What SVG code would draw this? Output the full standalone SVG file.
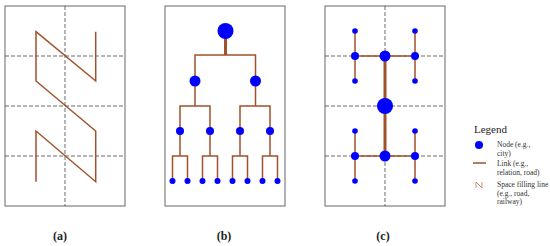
<svg xmlns="http://www.w3.org/2000/svg" width="550" height="246" viewBox="0 0 550 246">
<style>
.frame{fill:#fff;stroke:#666;stroke-width:1}
.grid{stroke:#444;stroke-width:0.8;stroke-dasharray:4,2;fill:none}
.link{stroke:#a0522d;stroke-width:1.5;fill:none}
.thick{stroke:#a0522d;stroke-width:3;fill:none}
.node{fill:#0000ff}
.lbl{font-family:"Liberation Serif",serif;font-size:12px;font-weight:bold;fill:#222;text-anchor:middle}
.leg{font-family:"Liberation Serif",serif;font-size:7.5px;fill:#333}
.legt{font-family:"Liberation Serif",serif;font-size:11px;fill:#222}
</style>
<rect width="550" height="246" fill="#fff"/>
<g id="panel-a">
<rect class="frame" x="5" y="6" width="120" height="200"/>
<path class="grid" d="M65,6V206M5,56H125M5,106H125M5,156H125"/>
<path class="link" d="M95.7,31.7V81L36,31.7V81L95.7,131V181.7L36,131V181.7"/>
<text class="lbl" x="60" y="240">(a)</text>
</g>
<g id="panel-b">
<rect class="frame" x="165" y="6" width="120" height="200"/>
<text class="lbl" x="224" y="240">(b)</text>
</g>
<g id="panel-c">
<rect class="frame" x="325" y="6" width="120" height="200"/>
<path class="grid" d="M385,6V206M325,56H445M325,106H445M325,156H445"/>
<text class="lbl" x="383" y="240">(c)</text>
</g>
<g id="connectors">
<path class="thick" d="M225.5,31V55"/>
<path class="link" d="M195,81V55H255.5V81M195,81V106M180,131V106H210V131M255.5,81V106M240,131V106H270V131"/>
<path class="link" d="M180,131V156M172.5,181V156H187.5V181M210,131V156M202.5,181V156H217.5V181M240,131V156M232.5,181V156H247.5V181M270,131V156M262.5,181V156H277.5V181"/>
<path class="thick" d="M385,56V156"/>
<path class="link" d="M355,56H415M355,31V81M415,31V81M355,156H415M355,131V181M415,131V181"/>
</g>
<g id="nodes-b">
<circle class="node" cx="225.5" cy="31" r="8"/>
<circle class="node" cx="195" cy="81" r="5.5"/>
<circle class="node" cx="255.5" cy="81" r="5.5"/>
<circle class="node" cx="180" cy="131" r="4"/>
<circle class="node" cx="210" cy="131" r="4"/>
<circle class="node" cx="240" cy="131" r="4"/>
<circle class="node" cx="270" cy="131" r="4"/>
<circle class="node" cx="172.5" cy="181" r="3"/>
<circle class="node" cx="187.5" cy="181" r="3"/>
<circle class="node" cx="202.5" cy="181" r="3"/>
<circle class="node" cx="217.5" cy="181" r="3"/>
<circle class="node" cx="232.5" cy="181" r="3"/>
<circle class="node" cx="247.5" cy="181" r="3"/>
<circle class="node" cx="262.5" cy="181" r="3"/>
<circle class="node" cx="277.5" cy="181" r="3"/>
</g>
<g id="nodes-c">
<circle class="node" cx="385" cy="106" r="8"/>
<circle class="node" cx="385" cy="56" r="5.5"/>
<circle class="node" cx="385" cy="156" r="5.5"/>
<circle class="node" cx="355" cy="56" r="4"/>
<circle class="node" cx="415" cy="56" r="4"/>
<circle class="node" cx="355" cy="156" r="4"/>
<circle class="node" cx="415" cy="156" r="4"/>
<circle class="node" cx="355" cy="31" r="2.8"/>
<circle class="node" cx="355" cy="81" r="2.8"/>
<circle class="node" cx="415" cy="31" r="2.8"/>
<circle class="node" cx="415" cy="81" r="2.8"/>
<circle class="node" cx="355" cy="131" r="2.8"/>
<circle class="node" cx="355" cy="181" r="2.8"/>
<circle class="node" cx="415" cy="131" r="2.8"/>
<circle class="node" cx="415" cy="181" r="2.8"/>
</g>
<g id="legend">
<text class="legt" x="474" y="133">Legend</text>
<circle class="node" cx="479" cy="145" r="4"/>
<text class="leg" x="497" y="147">Node (e.g.,</text>
<text class="leg" x="497" y="155.5">city)</text>
<path class="link" d="M473,163H486"/>
<text class="leg" x="497" y="166">Link (e.g.,</text>
<text class="leg" x="497" y="174.5">relation, road)</text>
<path stroke="#c0704a" stroke-width="0.8" fill="none" d="M476,188V182L482,188V182"/>
<text class="leg" x="497" y="187">Space filling line</text>
<text class="leg" x="497" y="195.5">(e.g., road,</text>
<text class="leg" x="497" y="204">railway)</text>
</g>
</svg>
